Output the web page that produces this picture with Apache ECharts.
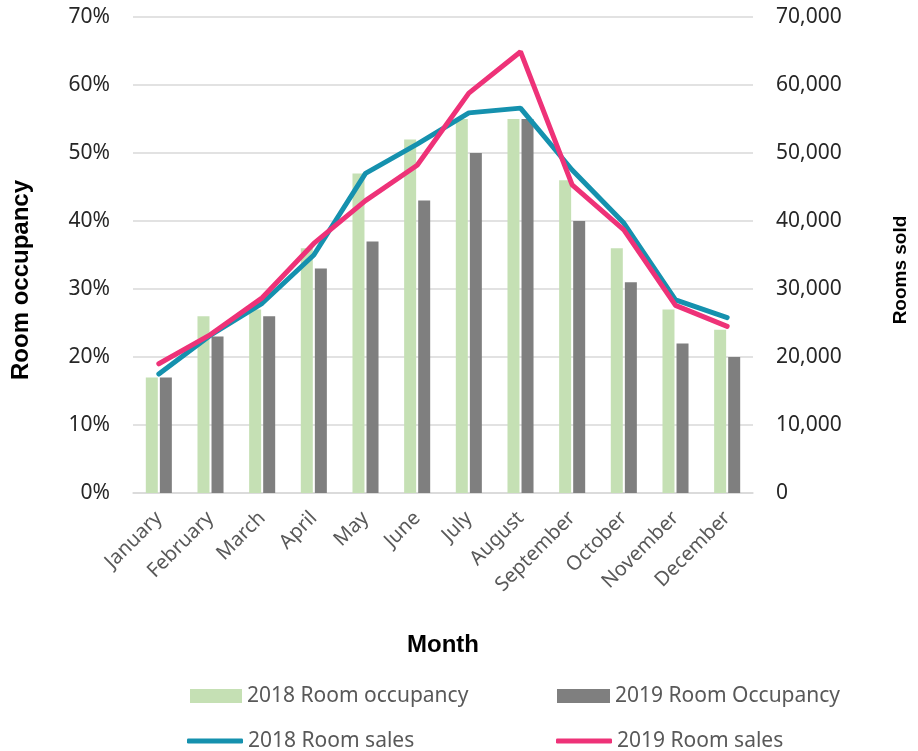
<!DOCTYPE html>
<html lang="en">
<head>
  <meta charset="UTF-8">
  <title>Room occupancy and sales</title>
  <script src="https://cdn.jsdelivr.net/npm/echarts@6/dist/echarts.min.js"></script>
</head>
<body style="margin:0">
<div id="main" style="width: 918px;height:751px;"></div>
<script type="text/javascript">

const months = ['January', 'February', 'March', 'April', 'May', 'June', 'July', 'August', 'September', 'October', 'November', 'December'];
const occupancy2018 = [17, 26, 27, 36, 47, 52, 55, 55, 46, 36, 27, 24];
const occupancy2019 = [17, 23, 26, 33, 37, 43, 50, 55, 40, 31, 22, 20];
const sales2018 = [17500, 23200, 27900, 35000, 47000, 51300, 55900, 56600, 47500, 39700, 28400, 25800];
const sales2019 = [19000, 23300, 28700, 36700, 43000, 48200, 58800, 64900, 45300, 38700, 27600, 24500];

const font = 'Noto Sans';
const titleFont = 'Liberation Sans';
const labelColor = '#262626';
const legendText = {fontFamily: font, fontSize: 21, lineHeight: 22, color: '#595959'};

const myChart = echarts.init(document.getElementById('main'));
const option = {
  animation: false,
  grid: {left: 133, right: 156, top: 17, bottom: 258},
  legend: [
    {data: ['2018 Room occupancy'], left: 185, top: 680, itemWidth: 52, itemHeight: 14, icon: 'rect', textStyle: legendText},
    {data: ['2019 Room Occupancy'], left: 552, top: 680, itemWidth: 53, itemHeight: 14, icon: 'rect', textStyle: legendText},
    {data: ['2018 Room sales'], left: 182, top: 725, itemWidth: 56, itemHeight: 5, icon: 'roundRect', textStyle: legendText},
    {data: ['2019 Room sales'], left: 551, top: 725, itemWidth: 56, itemHeight: 5, icon: 'roundRect', textStyle: legendText}
  ],
  xAxis: {
    type: 'category',
    data: months,
    name: 'Month',
    nameLocation: 'middle',
    nameGap: 140,
    nameTextStyle: {fontFamily: titleFont, fontSize: 24, fontWeight: 'bold', color: '#000'},
    axisLine: {lineStyle: {color: '#D9D9D9', width: 1.5}},
    axisTick: {show: false},
    axisLabel: {rotate: 45, interval: 0, fontFamily: font, fontSize: 20, color: '#595959', margin: 22}
  },
  yAxis: [
    {
      type: 'value',
      min: 0, max: 70, interval: 10,
      name: 'Room occupancy',
      nameLocation: 'middle',
      nameRotate: 90,
      nameGap: 100,
      nameTextStyle: {fontFamily: titleFont, fontSize: 24, fontWeight: 'bold', color: '#000', padding: [0, 50, 0, 0]},
      axisLabel: {formatter: '{value}%', fontFamily: font, fontSize: 21, color: labelColor, margin: 23},
      splitLine: {lineStyle: {color: '#D9D9D9', width: 1.5}},
      axisLine: {show: false},
      axisTick: {show: false}
    },
    {
      type: 'value',
      min: 0, max: 70000, interval: 10000,
      name: 'Rooms sold',
      nameLocation: 'middle',
      nameRotate: 90,
      nameGap: 138,
      nameTextStyle: {fontFamily: titleFont, fontSize: 19, fontWeight: 'bold', color: '#000', padding: [0, 30, 0, 0]},
      axisLabel: {
        formatter: function (v) { return v.toLocaleString('en-US'); },
        fontFamily: font, fontSize: 21, color: labelColor, margin: 23
      },
      splitLine: {show: false},
      axisLine: {show: false},
      axisTick: {show: false}
    }
  ],
  series: [
    {name: '2018 Room occupancy', type: 'bar', data: occupancy2018, barWidth: 12, barGap: '17%', itemStyle: {color: '#C5E0B4'}},
    {name: '2019 Room Occupancy', type: 'bar', data: occupancy2019, barWidth: 12, itemStyle: {color: '#7F7F7F'}},
    {name: '2018 Room sales', type: 'line', yAxisIndex: 1, data: sales2018, symbol: 'none', color: '#1591AE', lineStyle: {width: 5, color: '#1591AE', cap: 'round'}},
    {name: '2019 Room sales', type: 'line', yAxisIndex: 1, data: sales2019, symbol: 'none', color: '#EE3278', lineStyle: {width: 5, color: '#EE3278', cap: 'round'}}
  ]
};
myChart.setOption(option);
</script>
</body>
</html>
